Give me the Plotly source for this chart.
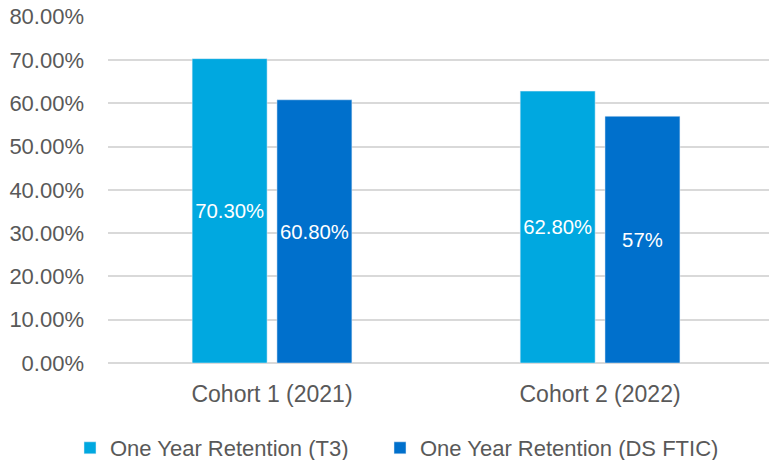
import plotly.graph_objects as go

categories = ["Cohort 1 (2021)", "Cohort 2 (2022)"]
series_names = ["One Year Retention (T3)", "One Year Retention (DS FTIC)"]
t3_values = [0.703, 0.628]
ds_values = [0.608, 0.57]
t3_labels = ["70.30%", "62.80%"]
ds_labels = ["60.80%", "57%"]
tick_vals = [0, 0.1, 0.2, 0.3, 0.4, 0.5, 0.6, 0.7, 0.8]

FONT = "Liberation Sans, Arial, sans-serif"
GRAY = "#595959"

W, H = 769, 460

fig = go.Figure()
fig.add_trace(go.Bar(
    name=series_names[0], x=categories, y=t3_values, text=t3_labels,
    marker_color="#00A8E0", textposition="inside", insidetextanchor="middle",
    textfont=dict(color="white", size=20.5, family=FONT), textangle=0,
    legendwidth=265,
))
fig.add_trace(go.Bar(
    name=series_names[1], x=categories, y=ds_values, text=ds_labels,
    marker_color="#0070CC", textposition="inside", insidetextanchor="middle",
    textfont=dict(color="white", size=20.5, family=FONT), textangle=0,
    legendwidth=305,
))

fig.update_layout(
    width=W, height=H,
    margin=dict(l=108, r=0, t=16, b=97, autoexpand=False),
    paper_bgcolor="white", plot_bgcolor="white",
    barmode="group", bargap=0.483, bargroupgap=0.116,
    font=dict(family=FONT, color=GRAY, size=22),
    showlegend=True,
    legend=dict(orientation="h", xref="container", yref="container",
                x=70 / W, xanchor="left", y=1 - 448 / H, yanchor="middle",
                font=dict(size=22, color=GRAY), itemwidth=30, tracegroupgap=0),
    uniformtext=dict(mode="show", minsize=10),
)
fig.update_xaxes(range=[-0.5, 1.515], showgrid=False, showline=False, ticks="",
                 tickfont=dict(size=23, color=GRAY), ticklabelstandoff=15,
                 automargin=False)
fig.update_yaxes(range=[0, 0.8015], tickvals=tick_vals, tickformat=".2%",
                 showgrid=True, gridcolor="#D9D9D9", gridwidth=1.5,
                 zeroline=True, zerolinecolor="#D9D9D9", zerolinewidth=1.5,
                 showline=False, ticks="", tickfont=dict(size=22, color=GRAY),
                 ticklabelstandoff=23, automargin=False)

fig.write_html("out.html", config={"displayModeBar": False},
               post_script="document.body.style.margin='0';")
